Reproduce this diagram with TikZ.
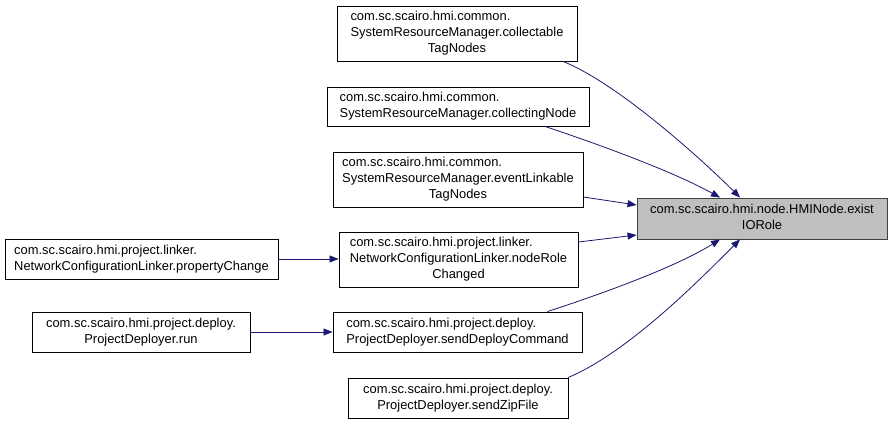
\documentclass[tikz,border=0pt]{standalone}
\usepackage{fontspec}
\setmainfont{Liberation Sans}
\usetikzlibrary{arrows.meta}
\definecolor{edgeblue}{HTML}{191970}
\definecolor{tgtfill}{HTML}{BFBFBF}
\definecolor{tgtdraw}{HTML}{404040}
\newcommand{\lab}[2]{\begin{tabular}{@{}c@{}}\multicolumn{1}{@{}l@{}}{#1}\\#2\end{tabular}}
\begin{document}
\begin{tikzpicture}[x=1pt,y=-1pt,
  fn/.style={draw=black,fill=white,line width=0.9pt,inner sep=0pt,
    font=\fontsize{12.9}{16}\selectfont,text=black},
  tgt/.style={fn,draw=tgtdraw,fill=tgtfill},
  call/.style={draw=edgeblue,line width=0.8pt,
    -{Triangle[length=9pt,width=7pt]}}]
\useasboundingbox (0,0) rectangle (893,425);
\fill[white] (0,0) rectangle (893,425);
\node[fn,minimum width=240,minimum height=55] (a) at (457,33.5)
  {\lab{com.sc.scairo.hmi.common.}{SystemResourceManager.collectable\\TagNodes}};
\node[fn,minimum width=262,minimum height=39] (b) at (458,106.5)
  {\lab{com.sc.scairo.hmi.common.}{SystemResourceManager.collectingNode}};
\node[fn,minimum width=250,minimum height=55] (c) at (458,179.5)
  {\lab{com.sc.scairo.hmi.common.}{SystemResourceManager.eventLinkable\\TagNodes}};
\node[fn,minimum width=239,minimum height=55] (d) at (458.5,259.5)
  {\lab{com.sc.scairo.hmi.project.linker.}{NetworkConfigurationLinker.nodeRole\\Changed}};
\node[fn,minimum width=249,minimum height=40] (e) at (457.5,332)
  {\lab{com.sc.scairo.hmi.project.deploy.}{ProjectDeployer.sendDeployCommand}};
\node[fn,minimum width=220,minimum height=40] (f) at (458,398)
  {\lab{com.sc.scairo.hmi.project.deploy.}{ProjectDeployer.sendZipFile}};
\node[tgt,minimum width=250,minimum height=41] (t) at (762,218.5)
  {\lab{com.sc.scairo.hmi.node.HMINode.exist}{IORole}};
\node[fn,minimum width=273,minimum height=40] (p) at (141.5,259)
  {\lab{com.sc.scairo.hmi.project.linker.}{NetworkConfigurationLinker.propertyChange}};
\node[fn,minimum width=218,minimum height=40] (r) at (141,332)
  {\lab{com.sc.scairo.hmi.project.deploy.}{ProjectDeployer.run}};
% edges
\draw[call] ([xshift=106pt]a.south) .. controls +(55,22) and +(-38,-38) .. ([xshift=-22pt]t.north);
\draw[call] ([xshift=87pt]b.south) .. controls +(60,20) and +(-45,-25) .. ([xshift=-42pt]t.north);
\draw[call] ([yshift=-17.5pt]c.east) -- ([yshift=13.5pt]t.west);
\draw[call] ([yshift=17.5pt]d.east) -- ([yshift=-16.5pt]t.west);
\draw[call] ([xshift=90pt]e.north) .. controls +(55,-18) and +(-45,28) .. ([xshift=-42pt]t.south);
\draw[call] ([xshift=110pt]f.north) .. controls +(60,-25) and +(-40,40) .. ([xshift=-22pt]t.south);
\draw[call] (p.east) -- (d.west |- p.east);
\draw[call] (r.east) -- (e.west |- r.east);
\end{tikzpicture}
\end{document}
